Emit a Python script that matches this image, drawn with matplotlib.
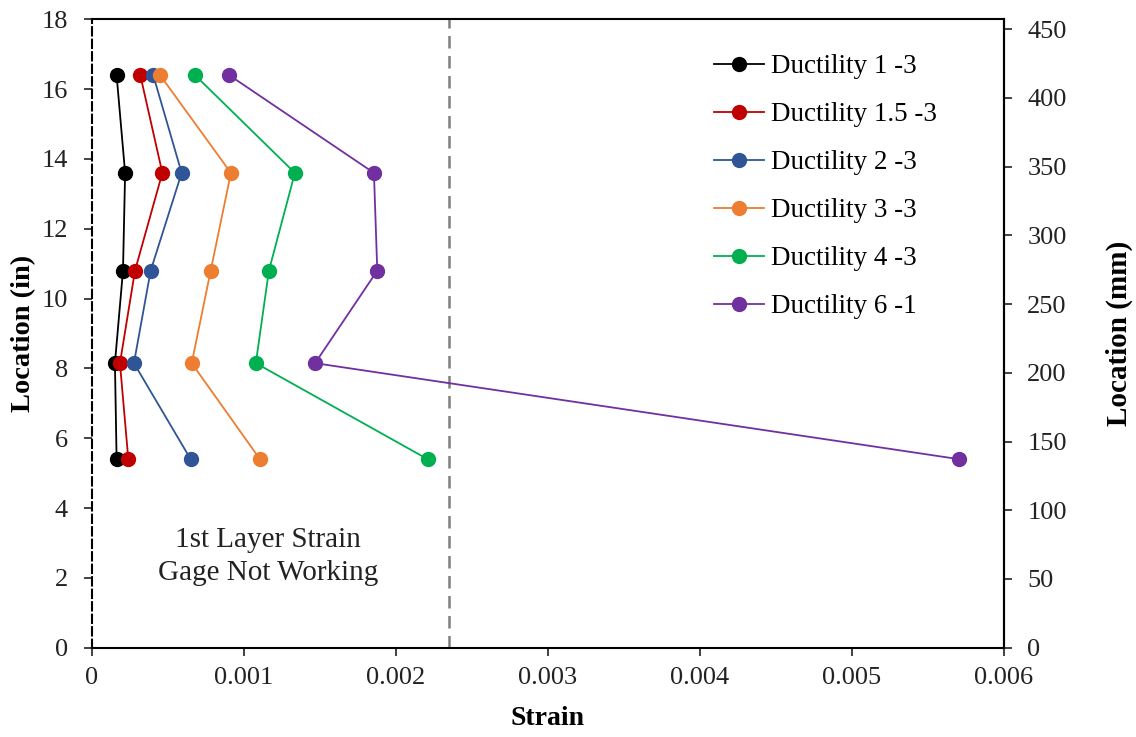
import matplotlib.pyplot as plt
import numpy as np

plt.rcParams['font.family'] = ['Liberation Serif', 'DejaVu Serif']

# Gage locations (in)
location = [16.4, 13.6, 10.8, 8.15, 5.4]

# Strain at each gage location, one list per ductility cycle
labels = ['Ductility 1 -3', 'Ductility 1.5 -3', 'Ductility 2 -3',
          'Ductility 3 -3', 'Ductility 4 -3', 'Ductility 6 -1']
strain_d1 = [0.000164, 0.000220, 0.000206, 0.000153, 0.000164]
strain_d15 = [0.000320, 0.000465, 0.000285, 0.000186, 0.000241]
strain_d2 = [0.000405, 0.000592, 0.000388, 0.000278, 0.000651]
strain_d3 = [0.000450, 0.000916, 0.000783, 0.000658, 0.001107]
strain_d4 = [0.000680, 0.001337, 0.001166, 0.001080, 0.002210]
strain_d6 = [0.000905, 0.001857, 0.001879, 0.001470, 0.005706]
colors = ['#000000', '#C00000', '#2F5597', '#ED7D31', '#00B050', '#7030A0']

yield_strain = 0.00235

fig = plt.figure(figsize=(11.36, 7.37), dpi=100)
ax = fig.add_axes([0.0807, 0.1212, 0.8028, 0.8526])

series = [strain_d1, strain_d15, strain_d2, strain_d3, strain_d4, strain_d6]
for s, lab, c in zip(series, labels, colors):
    ax.plot(s, location, color=c, lw=1.3, marker='o', markersize=10,
            label=lab, zorder=3)

ax.axvline(yield_strain, color='#7f7f7f', lw=1.8, ls=(0, (5, 3)), zorder=2)

ax.set_xlim(0, 0.006)
ax.set_ylim(0, 18)
ax.set_xticks([0, 0.001, 0.002, 0.003, 0.004, 0.005, 0.006])
ax.set_xticklabels(['0', '0.001', '0.002', '0.003', '0.004', '0.005', '0.006'])
ax.set_yticks(np.arange(0, 19, 2))
ax.tick_params(labelsize=19, direction='out', length=6, width=1.2, colors='#222222')
ax.tick_params(axis='x', pad=8)
ax.tick_params(axis='y', pad=11)
for sp in ax.spines.values():
    sp.set_linewidth(1.5)
ax.spines['left'].set_linestyle((0, (4, 2)))

ax.set_xlabel('Strain', fontsize=20, fontweight='bold', labelpad=12)
ax.set_ylabel('Location (in)', fontsize=20.5, fontweight='bold', labelpad=4)

ax.text(0.00116, 2.6, '1st Layer Strain\nGage Not Working', fontsize=21,
        ha='center', va='center', color='#222222', linespacing=1.35)

ax2 = ax.twinx()
ax2.set_ylim(0, 18 * 25.4)
ax2.set_yticks(np.arange(0, 451, 50))
ax2.tick_params(labelsize=19, direction='out', length=6, width=1.2, colors='#222222',
                pad=11)
ax2.set_ylabel('Location (mm)', fontsize=21, fontweight='bold', labelpad=28)
for sp in ax2.spines.values():
    sp.set_visible(False)
ax2.spines['right'].set_visible(True)
ax2.spines['right'].set_linewidth(1.5)

ax.legend(loc='upper left', bbox_to_anchor=(0.6556, 0.983), frameon=False,
          fontsize=19.5, labelspacing=0.85, handlelength=1.85, handletextpad=0.26)

fig.savefig('out.png', dpi=100)
